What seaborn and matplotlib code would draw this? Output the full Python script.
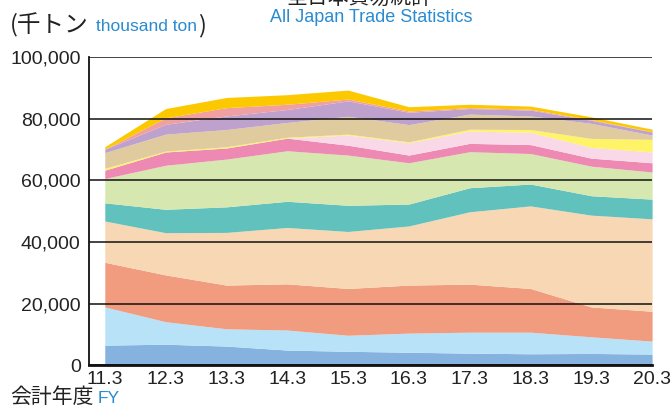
import numpy as np
import pandas as pd
import matplotlib
matplotlib.use("Agg")
import matplotlib.pyplot as plt
import seaborn as sns
from matplotlib.ticker import FuncFormatter

sns.set_theme(style="white")
plt.rcParams['font.family'] = ['Liberation Sans', 'Noto Sans CJK JP', 'DejaVu Sans']

years = ["11.3", "12.3", "13.3", "14.3", "15.3", "16.3", "17.3", "18.3", "19.3", "20.3"]

# thousand ton, bottom layer first
layer_blue = [6.5, 6.8, 6.2, 4.9, 4.5, 4.2, 3.9, 3.7, 3.8, 3.6]
layer_lightblue = [12.4, 7.3, 5.6, 6.5, 5.2, 6.2, 6.8, 7.0, 5.4, 4.2]
layer_salmon = [14.5, 15.2, 14.2, 15.0, 15.2, 15.6, 15.6, 14.2, 9.7, 9.7]
layer_peach = [13.4, 13.7, 17.1, 18.3, 18.5, 19.2, 23.5, 26.8, 29.8, 30.0]
layer_teal = [5.9, 7.6, 8.3, 8.5, 8.5, 7.1, 7.8, 7.1, 6.3, 6.4]
layer_green = [7.9, 14.3, 15.5, 16.4, 16.3, 13.4, 11.7, 9.9, 9.6, 8.8]
layer_pink = [2.7, 4.3, 3.6, 4.1, 3.2, 2.5, 2.7, 2.9, 2.6, 3.0]
layer_lightpink = [0, 0, 0, 0, 3.3, 4.0, 4.0, 4.0, 3.5, 3.5]
layer_yellow = [0.6, 0.3, 0.4, 0.3, 0.3, 0.3, 0.6, 0.9, 2.9, 4.1]
layer_tan = [5.1, 5.5, 5.6, 4.8, 5.8, 5.6, 4.9, 4.4, 4.9, 1.4]
layer_purple = [1.1, 3.2, 4.4, 4.2, 5.0, 4.0, 1.8, 1.9, 1.0, 1.0]
layer_rose = [0, 2.1, 2.7, 1.7, 0.6, 0.4, 0.3, 0.3, 0.2, 0.1]
layer_gold = [0.8, 3.0, 3.3, 3.1, 2.9, 1.4, 1.1, 1.0, 0.9, 0.8]

df = pd.DataFrame({
    "blue": layer_blue, "lightblue": layer_lightblue, "salmon": layer_salmon,
    "peach": layer_peach, "teal": layer_teal, "green": layer_green,
    "pink": layer_pink, "lightpink": layer_lightpink, "yellow": layer_yellow,
    "tan": layer_tan, "purple": layer_purple, "rose": layer_rose, "gold": layer_gold,
}, index=years) * 1000

colors = ["#86b2df", "#b8e2f8", "#f29c7f", "#f8d7b5", "#60c1bd", "#d6e7af",
          "#ee89b3", "#f9d9e8", "#fff367", "#e0cb9f", "#bea1cd", "#f0a0a0", "#fcc800"]

fig = plt.figure(figsize=(6.72, 4.08), dpi=100)
ax = fig.add_axes([0.1324, 0.105, 0.838, 0.755])

xs = np.arange(len(years))
ax.stackplot(xs, df.T.values, colors=colors, linewidth=0)

ax.set_xlim(-0.26, len(years) - 1)
ax.set_ylim(0, 100000)
ax.set_yticks(range(0, 100001, 20000))
ax.yaxis.set_major_formatter(FuncFormatter(lambda v, p: f"{int(v):,}"))
ax.set_xticks(xs)
ax.set_xticklabels(years)
ax.tick_params(axis="both", length=0, labelsize=14, colors="#222222")
ax.tick_params(axis="x", pad=4)
ax.tick_params(axis="y", pad=6)

ax.yaxis.grid(True, color="#111111", linewidth=1.1)
ax.xaxis.grid(False)
ax.set_axisbelow(False)

for s in ["top", "right"]:
    ax.spines[s].set_visible(False)
ax.spines["left"].set_color("#111111")
ax.spines["left"].set_linewidth(1.3)
ax.spines["bottom"].set_color("#111111")
ax.spines["bottom"].set_linewidth(2)

jp = ["Noto Sans CJK JP", "DejaVu Sans"]
blue_txt = "#2a8bd0"
# main title sits mostly above the top edge, as in the source
fig.text(0.535, 1.006, "全日本貿易統計", ha="center", va="center", fontsize=15,
         color="#222222", family=jp)
fig.text(0.553, 0.958, "All Japan Trade Statistics", ha="center", va="center",
         fontsize=13, color=blue_txt)

fig.text(0.015, 0.938, "(千トン", ha="left", va="center", fontsize=17,
         color="#222222", family=jp)
fig.text(0.143, 0.935, "thousand ton", ha="left", va="center", fontsize=12.5,
         color=blue_txt)
fig.text(0.294, 0.938, ")", ha="left", va="center", fontsize=17,
         color="#222222", family=jp)

fig.text(0.015, 0.027, "会計年度", ha="left", va="center", fontsize=15,
         color="#222222", family=jp)
fig.text(0.145, 0.024, "FY", ha="left", va="center", fontsize=12.5, color=blue_txt)

fig.savefig("out.png", dpi=100)
